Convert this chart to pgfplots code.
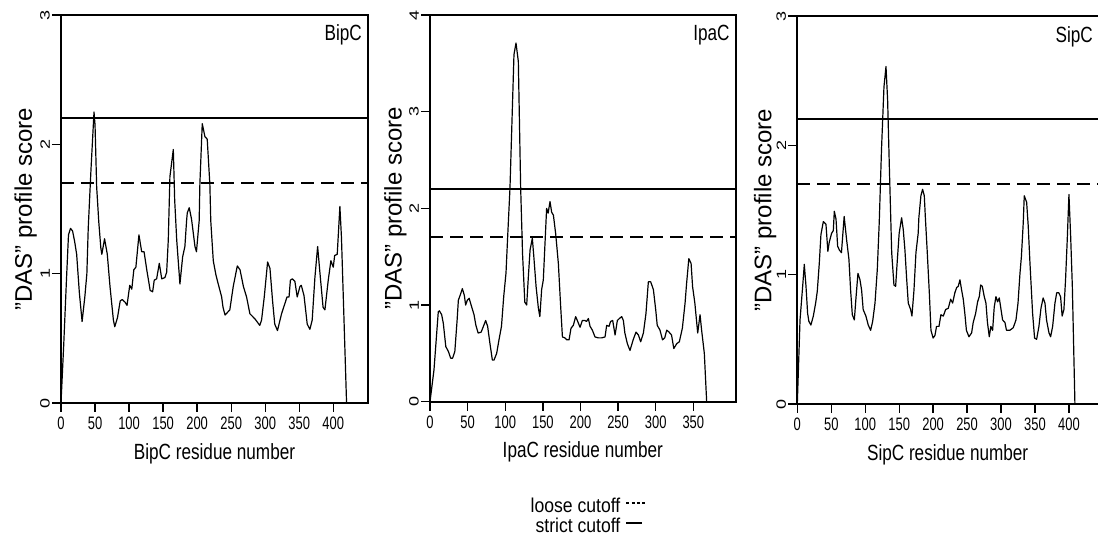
\documentclass[border=0pt]{standalone}
\usepackage{graphicx}
\usepackage{fontspec}
\setmainfont{Liberation Sans}
\newfontfamily\tickfont{Liberation Sans}[FakeStretch=0.72]
\newfontfamily\labfont{Liberation Sans}[FakeStretch=0.78]
\newfontfamily\legfont{Liberation Sans}[FakeStretch=0.88]
\usepackage{pgfplots}
\pgfplotsset{compat=1.18}
\pgfplotsset{
  das/.style={
    scale only axis,
    axis line style={line width=1.7pt},
    tick align=outside,
    xtick pos=bottom, ytick pos=left,
    major tick length=9pt,
    major tick style={line width=1.3pt, black},
    /pgf/number format/assume math mode=true,
    xticklabel style={font=\tickfont\fontsize{18}{18}\selectfont, anchor=north, inner sep=0pt, yshift=-5pt},
    yticklabel={\rotatebox{90}{\scalebox{1}[0.75]{\pgfmathprintnumber{\tick}}}},
    yticklabel style={font=\normalfont\fontsize{18}{18}\selectfont, anchor=east, inner sep=0pt, xshift=-2pt},
    xlabel style={font=\labfont\fontsize{22}{22}\selectfont, at={(axis description cs:0.5,0)}, anchor=north, yshift=-40pt, inner sep=0pt},
    ylabel style={font=\normalfont\fontsize{24}{24}\selectfont, anchor=base, inner sep=0pt},
    ylabel={"DAS" profile score},
    xmin=0, ymin=0,
    every axis plot/.append style={black},
  },
}
\begin{document}
\begin{tikzpicture}
\useasboundingbox (0,0) rectangle (1098pt,535pt);
% ---------------- BipC ----------------
\begin{axis}[das, at={(61pt,132pt)}, anchor=south west, width=307pt, height=388pt,
  xmax=451, ymax=3, xtick={0,50,...,400}, ytick={0,1,2,3},
  xlabel={BipC residue number}, ylabel style={at={(axis description cs:-0.0945,0.5)}}]
\addplot[line width=2pt, dash pattern=on 13pt off 7pt] coordinates {(0,1.7) (451,1.7)};
\addplot[line width=2pt] coordinates {(0,2.2) (451,2.2)};
\addplot[line width=1.2pt, line join=round] table {
0 0
4 0.45
8 0.95
11 1.30
14 1.35
17 1.33
20 1.25
23 1.15
27 0.85
31 0.63
35 0.82
38 1.0
40 1.35
44 1.8
48.5 2.25
50 2.15
52.4 1.67
55.5 1.40
58.5 1.20
60 1.15
64 1.27
68 1.15
72 0.90
77 0.64
79 0.59
83 0.66
87 0.79
90 0.80
94 0.78
97 0.755
101 0.91
104 0.88
107 1.03
110 1.05
114.5 1.30
118.5 1.17
122 1.17
126 1.03
131 0.87
134.6 0.86
137 0.95
140.5 0.96
144.4 1.08
148 0.96
152.7 0.97
155.2 1.01
157.6 1.26
160 1.75
165 1.96
167 1.57
170 1.26
174.7 0.92
178.7 1.13
182 1.21
184.5 1.41
185.5 1.47
188.4 1.51
191.8 1.42
196.8 1.21
199 1.17
203 1.41
204 1.69
207.5 2.16
211.4 2.06
214.8 2.04
218.7 1.69
220 1.41
223.7 1.10
227.6 0.99
231 0.92
236 0.82
238 0.74
241 0.68
248 0.72
253 0.90
259 1.06
263 1.03
268 0.90
272.6 0.82
277.5 0.69
285 0.65
292 0.60
294.6 0.64
298.6 0.82
303.5 1.09
307 1.04
310.8 0.79
314 0.61
318 0.56
324 0.69
329 0.77
332 0.82
335 0.82
337 0.95
340 0.96
343.6 0.94
347 0.82
351 0.90
353 0.91
357 0.83
361.7 0.61
365.6 0.57
369 0.64
373 0.97
377 1.21
381 0.97
385 0.74
387.7 0.72
392.6 0.95
396.5 1.10
400 1.05
402 1.14
405.8 1.15
409.7 1.52
412 1.28
416 0.6
419.5 0
};
\node[font=\labfont\fontsize{22}{22}\selectfont, anchor=north east, inner sep=0pt, xshift=-6pt, yshift=-9pt] at (rel axis cs:1,1) {BipC};
\end{axis}
% ---------------- IpaC ----------------
\begin{axis}[das, at={(430pt,133.3pt)}, anchor=south west, width=305.7pt, height=386.7pt,
  xmax=406.3, ymax=4, xtick={0,50,...,350}, ytick={0,1,2,3,4},
  xlabel={IpaC residue number}, ylabel style={at={(axis description cs:-0.0932,0.5)}},
  legend style={at={(0.7066,-0.2485)}, anchor=north east, draw=none, fill=none,
    inner sep=0pt, outer sep=0pt, font=\legfont\fontsize{20}{20}\selectfont,
    row sep=0pt, column sep=5pt,
    nodes={inner sep=0pt, text height=14.5pt, text depth=5.9pt}},
  legend plot pos=right, legend cell align=right]
\addplot[line width=2pt, dash pattern=on 13pt off 7pt, legend image code/.code={\draw[black, line width=1.5pt, dash pattern=on 3pt off 2.3pt] (0pt,5pt) -- (19pt,5pt);}] coordinates {(0,1.7) (406.3,1.7)};
\addlegendentry{loose cutoff}
\addplot[line width=2pt, legend image code/.code={\draw[black, line width=1.8pt, solid] (0pt,5pt) -- (16pt,5pt);}] coordinates {(0,2.2) (406.3,2.2)};
\addlegendentry{strict cutoff}
\addplot[line width=1.2pt, line join=round, forget plot] table {
0 0
5.3 0.33
11 0.93
12.5 0.94
15.5 0.90
17.7 0.81
21 0.57
24.4 0.52
27.5 0.45
30 0.45
33 0.52
36 0.84
37.7 1.05
40 1.10
43 1.17
45.6 1.10
47.4 1.00
49.6 1.05
52 1.07
55.4 0.98
58.5 0.90
61 0.79
64 0.71
68 0.72
71 0.78
74 0.84
76.6 0.78
79.7 0.60
82.9 0.43
85 0.43
88.6 0.50
91.7 0.64
95 0.78
98 1.09
101 1.33
103 1.67
106.3 2.21
111.6 3.59
114.3 3.71
117.4 3.52
120.5 2.21
123 1.53
126 1.03
128.5 1.00
130.7 1.29
133 1.57
136 1.69
138 1.50
141 1.19
144 0.97
146 0.88
148.4 1.16
150.6 1.26
155 2.00
157 1.95
159.5 2.07
161.7 1.96
164 1.93
167 1.74
170.6 1.43
173.7 0.98
176 0.67
179.4 0.66
181.7 0.64
184.8 0.64
187.4 0.76
190.5 0.79
193.6 0.88
195.8 0.84
199.4 0.77
202.5 0.84
206 0.84
208 0.83
210.5 0.86
212.7 0.78
215.8 0.74
219.3 0.67
223.7 0.66
228 0.66
232.6 0.67
234.8 0.79
238 0.78
240 0.83
242.8 0.84
246 0.69
249 0.84
251.6 0.86
254.8 0.88
257 0.84
259 0.71
262.3 0.60
265.8 0.53
270 0.64
273.8 0.72
277 0.69
280 0.62
283.6 0.71
287 0.91
290.2 1.24
293.3 1.24
296.9 1.16
300 0.95
302 0.79
305.7 0.74
309 0.64
312 0.66
314.6 0.74
317.7 0.72
321 0.69
324 0.55
327.9 0.60
331.4 0.62
335.4 0.76
339 1.02
341 1.22
344 1.48
347 1.43
349 1.19
352 1.02
355.8 0.71
358.9 0.90
361 0.74
364.6 0.50
367.7 0
};
\node[font=\labfont\fontsize{22}{22}\selectfont, anchor=north east, inner sep=0pt, xshift=-6pt, yshift=-10pt] at (rel axis cs:1,1) {IpaC};
\end{axis}
% ---------------- SipC ----------------
\begin{axis}[axis x line=box, axis y line=left, y axis line style={-},
  das, at={(797.3pt,131pt)}, anchor=south west, width=300.7pt, height=388pt,
  xmax=442.8, ymax=3, xtick={0,50,...,400}, ytick={0,1,2,3},
  xlabel={SipC residue number}, ylabel style={at={(axis description cs:-0.0865,0.5)}}]
\addplot[line width=2pt, dash pattern=on 13pt off 7pt] coordinates {(0,1.7) (442.8,1.7)};
\addplot[line width=2pt] coordinates {(0,2.2) (442.8,2.2)};
\addplot[line width=1.2pt, line join=round] table {
0 0
4 0.65
7.9 0.91
10.3 1.08
12.8 0.91
15.2 0.70
17 0.64
20 0.61
23.6 0.68
27 0.78
29.4 0.87
32.4 1.09
34.8 1.31
38.3 1.41
42.2 1.39
45 1.18
47 1.25
50.5 1.32
53 1.34
54.5 1.49
57 1.43
59.4 1.22
62 1.19
65 1.17
69 1.45
72.6 1.27
76 1.12
78.5 0.88
81 0.69
84 0.65
86.4 0.82
89.3 1.01
92.3 0.96
94.7 0.88
97 0.73
101 0.68
104.5 0.61
108 0.57
111 0.64
114.4 0.78
117.8 1.04
120.7 1.41
124 1.97
127.6 2.45
130.6 2.61
133 2.35
135.5 1.84
139 1.17
142.3 0.92
144.8 0.91
147 1.09
150 1.32
153.6 1.44
156 1.35
158.5 1.19
161 0.97
163.4 0.78
166.9 0.73
168.8 0.68
171.8 0.88
174.7 1.17
178 1.32
179 1.44
182 1.61
184.5 1.66
187 1.61
188.5 1.45
191.4 1.17
194.4 0.86
196.8 0.57
200 0.51
202.7 0.53
205 0.60
208.6 0.60
211.5 0.69
215 0.68
218.4 0.73
222.3 0.74
225.8 0.81
228.7 0.78
232 0.86
234.6 0.90
237 0.91
239.5 0.96
242 0.88
244.4 0.81
246.9 0.69
249 0.57
252.8 0.52
256.7 0.55
259 0.63
262.6 0.70
265.5 0.79
268 0.83
270 0.92
272.4 0.91
275.3 0.83
277.8 0.78
280 0.63
282.7 0.52
285 0.60
287.6 0.57
290 0.75
292.5 0.83
295 0.79
297.4 0.82
300 0.73
302.3 0.65
305.8 0.63
308 0.57
313 0.57
318 0.59
322 0.65
325 0.78
327.9 1.01
330 1.14
332.7 1.40
334.2 1.61
337.7 1.56
340 1.38
342.6 1.09
346.5 0.70
349.4 0.51
352.4 0.50
355.8 0.60
358.8 0.74
362 0.82
364.7 0.78
367 0.65
370.6 0.55
373 0.52
376 0.60
379.4 0.78
382 0.86
385 0.86
387.7 0.83
390 0.68
392.6 0.73
395 0.96
397.5 1.27
400 1.62
402.5 1.30
405 0.91
408.8 0
};
\node[font=\labfont\fontsize{22}{22}\selectfont, anchor=north east, inner sep=0pt, xshift=-5pt, yshift=-10.5pt] at (rel axis cs:1,1) {SipC};
\end{axis}
\end{tikzpicture}
\end{document}
